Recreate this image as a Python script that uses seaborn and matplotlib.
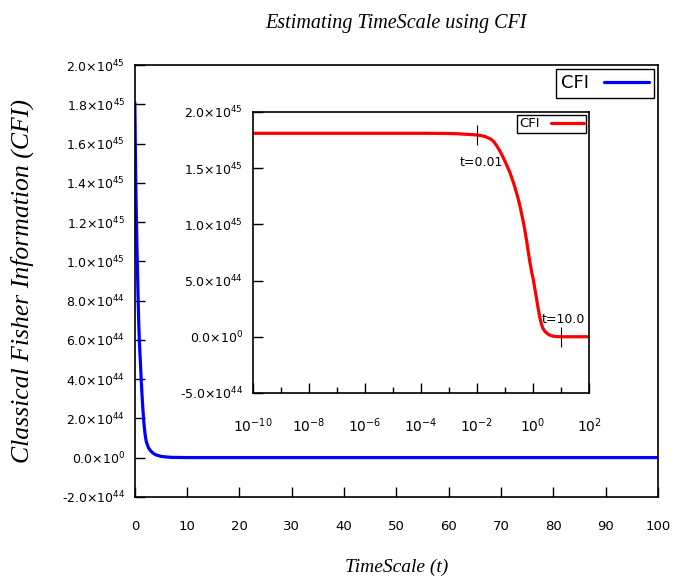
import matplotlib
matplotlib.use("Agg")
import matplotlib.pyplot as plt
import numpy as np
import pandas as pd
import seaborn as sns
from matplotlib.ticker import FixedLocator, FuncFormatter, NullFormatter

# values (CFI in units of 1e45)
t_main = [0.0, 0.05, 0.1, 0.15, 0.2, 0.25, 0.3, 0.35, 0.4, 0.45, 0.5, 0.6,
          0.75, 0.9, 1.0, 1.25, 1.5, 1.75, 2.0, 2.2, 2.6, 3.0, 3.5, 4.0, 5.0,
          6.0, 7.0, 10.0, 100.0]
cfi_main = [1.81, 1.70, 1.56, 1.46, 1.37, 1.29, 1.22, 1.15, 1.08, 1.02, 0.96,
            0.84, 0.68, 0.57, 0.52, 0.38, 0.26, 0.17, 0.11, 0.08, 0.05, 0.035,
            0.022, 0.014, 0.006, 0.003, 0.001, 0.0, 0.0]
t_inset = [1e-10, 1e-8, 1e-6, 1e-4, 1e-3, 2e-3, 3e-3, 5e-3, 0.0075, 0.01,
           0.015, 0.02, 0.03, 0.04, 0.05, 0.07, 0.1, 0.15, 0.2, 0.25, 0.3,
           0.35, 0.4, 0.45, 0.5, 0.6, 0.75, 0.9, 1.0, 1.25, 1.5, 1.75, 2.0,
           2.2, 2.6, 3.0, 3.5, 4.0, 5.0, 6.0, 7.0, 10.0, 100.0]
cfi_inset = [1.81, 1.81, 1.81, 1.81, 1.808, 1.806, 1.803, 1.80, 1.797, 1.795,
             1.788, 1.78, 1.76, 1.735, 1.70, 1.64, 1.56, 1.46, 1.37, 1.29,
             1.22, 1.15, 1.08, 1.02, 0.96, 0.84, 0.68, 0.57, 0.52, 0.38, 0.26,
             0.17, 0.11, 0.08, 0.05, 0.035, 0.022, 0.014, 0.006, 0.003, 0.001,
             0.0, 0.0]
marks_t = [0.01, 10.0]
marks_cfi = [1.795, 0.0]
marks_txt = ["t=0.01", "t=10.0"]

main_yticks = [-0.2, 0.0, 0.2, 0.4, 0.6, 0.8, 1.0, 1.2, 1.4, 1.6, 1.8, 2.0]
inset_yticks = [-0.5, 0.0, 0.5, 1.0, 1.5, 2.0]

sns.set_style("white")
plt.rcParams["font.family"] = ["DejaVu Sans"]
plt.rcParams["mathtext.default"] = "regular"
plt.rcParams["text.color"] = "black"
plt.rcParams["axes.labelcolor"] = "black"
plt.rcParams["xtick.color"] = "black"
plt.rcParams["ytick.color"] = "black"
SERIF = ["Liberation Serif", "DejaVu Serif"]


def sci(v, _pos=None):
    if abs(v) < 1e-9:
        return "0.0×10$^{0}$"
    val = v * 1e45
    exp = int(np.floor(np.log10(abs(val)) + 1e-9))
    return f"{val / 10**exp:.1f}×10$^{{{exp}}}$"


def logfmt(v, _pos=None):
    return f"10$^{{{int(round(np.log10(v)))}}}$"


def style_spines(a):
    for s in a.spines.values():
        s.set_linewidth(1.2)
        s.set_color("black")


df_main = pd.DataFrame({"t": t_main, "cfi": cfi_main})
df_in = pd.DataFrame({"t": t_inset, "cfi": cfi_inset})

fig = plt.figure(figsize=(6.81, 5.77), dpi=100)
ax = fig.add_axes([0.198, 0.139, 0.768, 0.748])
sns.lineplot(data=df_main, x="t", y="cfi", ax=ax, color="#0000ff", lw=2.3,
             sort=False, estimator=None, label="CFI")
ax.set_xlim(0, 100)
ax.set_ylim(-0.2, 2.0)
ax.set_xticks(np.arange(0, 101, 10))
ax.yaxis.set_major_locator(FixedLocator(main_yticks))
ax.yaxis.set_major_formatter(FuncFormatter(sci))
ax.tick_params(axis="both", direction="in", length=7, width=1, labelsize=9,
               bottom=True, left=True, top=False, right=False)
ax.tick_params(axis="x", pad=17, labelsize=9.5)
ax.tick_params(axis="y", pad=7)
style_spines(ax)
ax.set_xlabel("TimeScale (t)", family=SERIF, style="italic", fontsize=14,
              labelpad=18)
ax.set_ylabel("Classical Fisher Information (CFI)", family=SERIF,
              style="italic", fontsize=18.5, labelpad=20)
ax.set_title("Estimating TimeScale using CFI", family=SERIF, style="italic",
             fontsize=14.5, pad=27)
leg = ax.legend(loc="upper right", markerfirst=False, fontsize=13,
                fancybox=False, framealpha=1, edgecolor="black",
                handlelength=2.5, borderaxespad=0.2, borderpad=0.3)
leg.get_frame().set_linewidth(1)

ins = fig.add_axes([0.3715, 0.319, 0.4935, 0.487])
sns.lineplot(data=df_in, x="t", y="cfi", ax=ins, color="#ff0000", lw=2.3,
             sort=False, estimator=None, label="CFI")
ins.set_xscale("log")
ins.set_xlim(1e-10, 1e2)
ins.set_ylim(-0.5, 2.0)
ins.xaxis.set_major_locator(FixedLocator([10.0**k for k in range(-10, 3, 2)]))
ins.xaxis.set_minor_locator(FixedLocator([10.0**k for k in range(-9, 2, 2)]))
ins.xaxis.set_major_formatter(FuncFormatter(logfmt))
ins.xaxis.set_minor_formatter(NullFormatter())
ins.yaxis.set_major_locator(FixedLocator(inset_yticks))
ins.yaxis.set_major_formatter(FuncFormatter(sci))
ins.tick_params(axis="both", which="major", direction="in", length=7, width=1,
                labelsize=9, bottom=True, left=True, top=False, right=False)
ins.tick_params(axis="x", which="minor", direction="in", length=4, width=1,
                bottom=True, top=False)
ins.tick_params(axis="x", which="major", pad=17, labelsize=10)
ins.tick_params(axis="y", pad=7)
style_spines(ins)
ins.set_xlabel("")
ins.set_ylabel("")
ins.scatter(marks_t, marks_cfi, marker="|", s=220, color="black", lw=0.8,
            zorder=5)
ins.annotate(marks_txt[0], (marks_t[0], marks_cfi[0]), xytext=(3, -22),
             textcoords="offset points", ha="center", fontsize=9)
ins.annotate(marks_txt[1], (marks_t[1], marks_cfi[1]), xytext=(2, 10),
             textcoords="offset points", ha="center", fontsize=9)
leg2 = ins.legend(loc="upper right", markerfirst=False, fontsize=9.5,
                  fancybox=False, framealpha=1, edgecolor="black",
                  handlelength=2.5, borderaxespad=0.2, borderpad=0.2)
leg2.get_frame().set_linewidth(1)

fig.savefig("out.png", dpi=100)
